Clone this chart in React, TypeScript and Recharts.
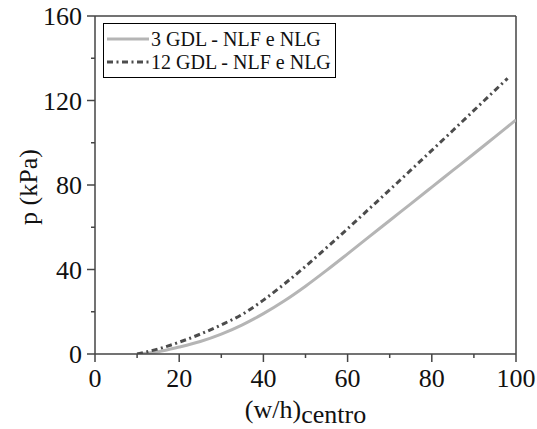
import { LineChart, Line, XAxis, YAxis, ReferenceLine, Legend } from "recharts";

// 3 GDL - NLF e NLG (solid light grey)
const x3 = [10, 15, 20, 25, 30, 35, 40, 45, 50, 55, 60, 65, 70, 75, 80, 85, 90, 95, 100];
const p3 = [0, 1.1, 3.3, 5.9, 9.4, 13.8, 19.1, 25.2, 32.1, 39.6, 47.4, 55.3, 63.2, 71.1, 79, 86.9, 94.8, 102.8, 110.8];

// 12 GDL - NLF e NLG (dash-dot dark grey)
const x12 = [10, 15, 20, 25, 30, 35, 40, 45, 50, 55, 60, 65, 70, 75, 80, 85, 90, 95, 98];
const p12 = [0, 2.4, 5.6, 9.4, 13.8, 18.8, 25.5, 33.2, 41.5, 50.3, 59.3, 68.5, 77.7, 87, 96.4, 105.8, 115.3, 124.8, 130.5];

const xTicks = [0, 10, 20, 30, 40, 50, 60, 70, 80, 90, 100];
const yTicks = [0, 20, 40, 60, 80, 100, 120, 140, 160];

const seriesNames = ["3 GDL - NLF e NLG", "12 GDL - NLF e NLG"];

const data3 = x3.map((x, i) => ({ x, p: p3[i] }));
const data12 = x12.map((x, i) => ({ x, p: p12[i] }));

const FONT = "'Liberation Serif', 'Times New Roman', serif";
const AXIS = "#454545";
const GREY = "#b5b5b5";
const DARK = "#4c4c4c";
const DASH = "6 3.5 2 3.5";

const txt = (size: number) => ({ fontFamily: FONT, fontSize: size, fill: "#111" });

const XTick = (props: any) => {
  const { x, y, payload } = props;
  const major = payload.value % 20 === 0;
  return (
    <g>
      <line x1={x} x2={x} y1={y} y2={y + (major ? 8 : 4)} stroke={AXIS} strokeWidth={1.5} />
      {major && (
        <text x={x} y={y + 33} textAnchor="middle" style={txt(26)}>
          {payload.value}
        </text>
      )}
    </g>
  );
};

const YTick = (props: any) => {
  const { x, y, payload } = props;
  const major = payload.value % 40 === 0;
  return (
    <g>
      <line x1={x - (major ? 8 : 4)} x2={x} y1={y} y2={y} stroke={AXIS} strokeWidth={1.5} />
      {major && (
        <text x={x - 13} y={y + 9} textAnchor="end" style={txt(26)}>
          {payload.value}
        </text>
      )}
    </g>
  );
};

const LegendBox = () => (
  <div style={{ border: "1px solid #000", width: 231, height: 53, background: "#fff" }}>
    <svg width={231} height={53} style={{ display: "block" }}>
      <line x1={3} x2={45} y1={15} y2={15} stroke={GREY} strokeWidth={3} />
      <text x={47} y={22} style={txt(20)}>
        {seriesNames[0]}
      </text>
      <line x1={3} x2={45} y1={38} y2={38} stroke={DARK} strokeWidth={3} strokeDasharray={DASH} />
      <text x={47} y={45} style={txt(20)}>
        {seriesNames[1]}
      </text>
    </svg>
  </div>
);

export default function App() {
  return (
    <div style={{ position: "absolute", left: 0, top: 0, background: "#fff" }}>
      <LineChart
        width={537}
        height={429}
        margin={{ top: 16, right: 21, bottom: 35, left: 35 }}
        style={{ fontFamily: FONT }}
      >
        <XAxis
          dataKey="x"
          type="number"
          domain={[0, 100]}
          ticks={xTicks}
          interval={0}
          allowDataOverflow
          height={40}
          tickSize={0}
          tickMargin={0}
          tickLine={false}
          tick={XTick}
          stroke={AXIS}
          strokeWidth={1.5}
          label={{
            content: () => (
              <text x={305.5} y={418} textAnchor="middle" style={txt(26)}>
                (w/h)<tspan dy={5}>centro</tspan>
              </text>
            ),
          }}
        />
        <YAxis
          type="number"
          domain={[0, 160]}
          ticks={yTicks}
          interval={0}
          allowDataOverflow
          width={60}
          tickSize={0}
          tickMargin={0}
          tickLine={false}
          tick={YTick}
          stroke={AXIS}
          strokeWidth={1.5}
          label={{
            content: () => (
              <text
                x={37}
                y={187}
                transform="rotate(-90 37 187)"
                textAnchor="middle"
                style={txt(26)}
              >
                p (kPa)
              </text>
            ),
          }}
        />
        <ReferenceLine y={160} stroke={AXIS} strokeWidth={1.5} />
        <ReferenceLine x={100} stroke={AXIS} strokeWidth={1.5} />
        <Line
          data={data3}
          dataKey="p"
          type="monotone"
          stroke={GREY}
          strokeWidth={3}
          dot={false}
          isAnimationActive={false}
        />
        <Line
          data={data12}
          dataKey="p"
          type="monotone"
          stroke={DARK}
          strokeWidth={3}
          strokeDasharray={DASH}
          dot={false}
          isAnimationActive={false}
        />
        <Legend
          layout="vertical"
          align="center"
          verticalAlign="middle"
          content={LegendBox}
          wrapperStyle={{ top: 23, left: 103, width: "auto" }}
        />
      </LineChart>
    </div>
  );
}
